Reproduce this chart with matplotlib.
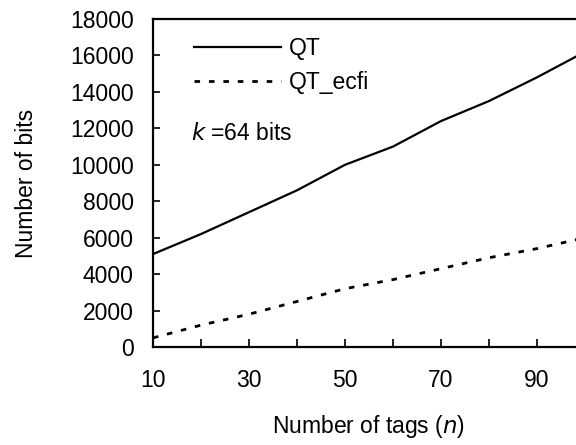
import numpy as np
import matplotlib
matplotlib.use("Agg")
import matplotlib.pyplot as plt

plt.rcParams['font.family'] = ['Liberation Sans', 'DejaVu Sans']

# data
tags = [10, 20, 30, 40, 50, 60, 70, 80, 90, 100]
qt = [5100, 6200, 7400, 8600, 10000, 11000, 12400, 13500, 14800, 16200]
qt_ecfi = [500, 1200, 1800, 2500, 3200, 3700, 4300, 4900, 5400, 6000]
xlabels = ['10', '', '30', '', '50', '', '70', '', '90', '']
yticks = [0, 2000, 4000, 6000, 8000, 10000, 12000, 14000, 16000, 18000]

fs = 16.5

fig = plt.figure(figsize=(5.76, 4.45), dpi=100)
# axes runs past the right edge, like the cropped original
ax = fig.add_axes([0.2656, 0.2202, 0.75, 0.737])

ax.plot(tags, qt, color='black', lw=1.6, label='QT')
ax.plot(tags, qt_ecfi, color='black', lw=2.0, linestyle=(0, (2.0, 3.2)), label='QT_ecfi')

ax.set_xlim(10, 100)
ax.set_ylim(0, 18000)
ax.set_xticks(tags)
ax.set_xticklabels(xlabels)
ax.set_yticks(yticks)
ax.tick_params(direction='in', labelsize=fs, width=1.2)
ax.tick_params(axis='x', length=6, pad=16)
ax.tick_params(axis='y', length=5, pad=14)
for s in ax.spines.values():
    s.set_linewidth(1.6)

ax.set_xlabel('Number of tags ($\\it{n}$)', fontsize=fs, labelpad=15)
ax.set_ylabel('Number of bits', fontsize=fs, labelpad=23)

leg = ax.legend(loc='upper left', bbox_to_anchor=(0.06, 0.99), frameon=False,
                fontsize=fs, handlelength=3.8, handletextpad=0.35,
                labelspacing=0.45, borderaxespad=0.25)
ax.text(0.088, 0.65, '$\\it{k}$ =64 bits', transform=ax.transAxes,
        fontsize=fs, va='center', ha='left')

fig.savefig('out.png', dpi=100)
